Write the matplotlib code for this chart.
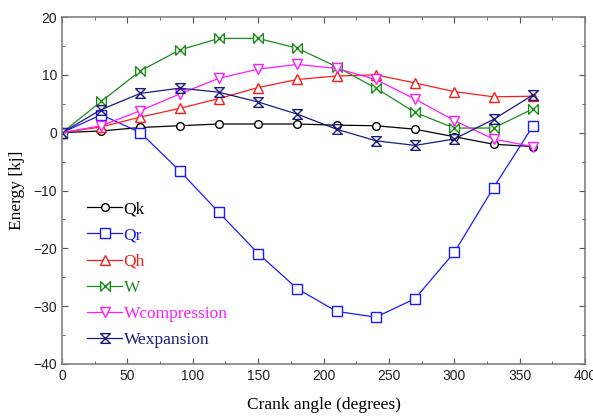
import matplotlib
matplotlib.use("Agg")
import matplotlib.pyplot as plt
from matplotlib.path import Path
from matplotlib.ticker import MultipleLocator

angle = [0, 30, 60, 90, 120, 150, 180, 210, 240, 270, 300, 330, 360]
qk = [0, 0.3, 0.9, 1.2, 1.5, 1.5, 1.5, 1.3, 1.2, 0.6, -0.7, -2.0, -2.4]
qr = [0, 3.1, 0.0, -6.6, -13.8, -20.9, -27.0, -30.9, -31.9, -28.7, -20.7, -9.5, 1.1]
qh = [0, 1.0, 2.7, 4.2, 5.9, 7.8, 9.2, 9.8, 10.0, 8.6, 7.1, 6.2, 6.3]
w = [0, 5.4, 10.7, 14.3, 16.3, 16.3, 14.6, 11.4, 7.7, 3.5, 0.8, 0.8, 4.1]
wcomp = [0, 1.2, 3.8, 6.7, 9.4, 11.0, 11.8, 11.1, 9.2, 5.8, 2.1, -1.1, -2.4]
wexp = [0, 4.0, 6.8, 7.7, 7.0, 5.3, 3.2, 0.6, -1.4, -2.2, -1.1, 2.3, 6.5]

labels = ["Qk", "Qr", "Qh", "W", "Wcompression", "Wexpansion"]
colors = ["#000000", "#1a1aff", "#ff1a1a", "#1a8c1a", "#ff1aff", "#1a1a80"]

# custom markers: |X| (W) and hourglass with bars (Wexpansion)
M, L = Path.MOVETO, Path.LINETO
bowtie_h = Path([(-1, -1), (1, 1), (1, -1), (-1, 1), (-1, -1)], [M, L, L, L, L])
bowtie_v = Path([(-1, -1), (1, 1), (-1, 1), (1, -1), (-1, -1)], [M, L, L, L, L])
markers = ["o", "s", "^", bowtie_h, "v", bowtie_v]
msizes = [5.5, 6.5, 7, 7, 7, 7]

fig = plt.figure(figsize=(5.93, 4.17), dpi=100)
ax = fig.add_axes([0.1046, 0.1271, 0.882, 0.8321])

series = [qk, qr, qh, w, wcomp, wexp]
for ys, lab, c, m, ms in zip(series, labels, colors, markers, msizes):
    ax.plot(angle, ys, color=c, lw=0.9, marker=m, ms=ms, mfc="white",
            mec=c, mew=1.0, label=lab)

ax.set_xlim(0, 400)
ax.set_ylim(-40, 20)
ax.xaxis.set_major_locator(MultipleLocator(50))
ax.xaxis.set_minor_locator(MultipleLocator(25))
ax.yaxis.set_major_locator(MultipleLocator(10))
ax.yaxis.set_minor_locator(MultipleLocator(5))
ax.tick_params(which="both", direction="in", top=True, right=True,
               color="#555555", labelsize=10, labelcolor="#222222")
ax.tick_params(which="major", length=4)
ax.tick_params(which="minor", length=2.5)
for lbl in ax.get_xticklabels() + ax.get_yticklabels():
    lbl.set_family("Liberation Sans")
for s in ax.spines.values():
    s.set_color("#808080")
    s.set_linewidth(1.2)

ax.set_xlabel("Crank angle (degrees)", family="Liberation Serif", fontsize=12.5,
              labelpad=10)
ax.set_ylabel("Energy [kj]", family="Liberation Serif", fontsize=12.5,
              labelpad=6)

leg = ax.legend(loc="lower left", bbox_to_anchor=(0.035, 0.025), frameon=False,
                prop={"family": "Liberation Serif", "size": 12.5},
                handlelength=2.0, handletextpad=0.1, labelspacing=0.58,
                borderaxespad=0)
for t, c in zip(leg.get_texts(), colors):
    t.set_color(c)

fig.savefig("out.png", dpi=100)
